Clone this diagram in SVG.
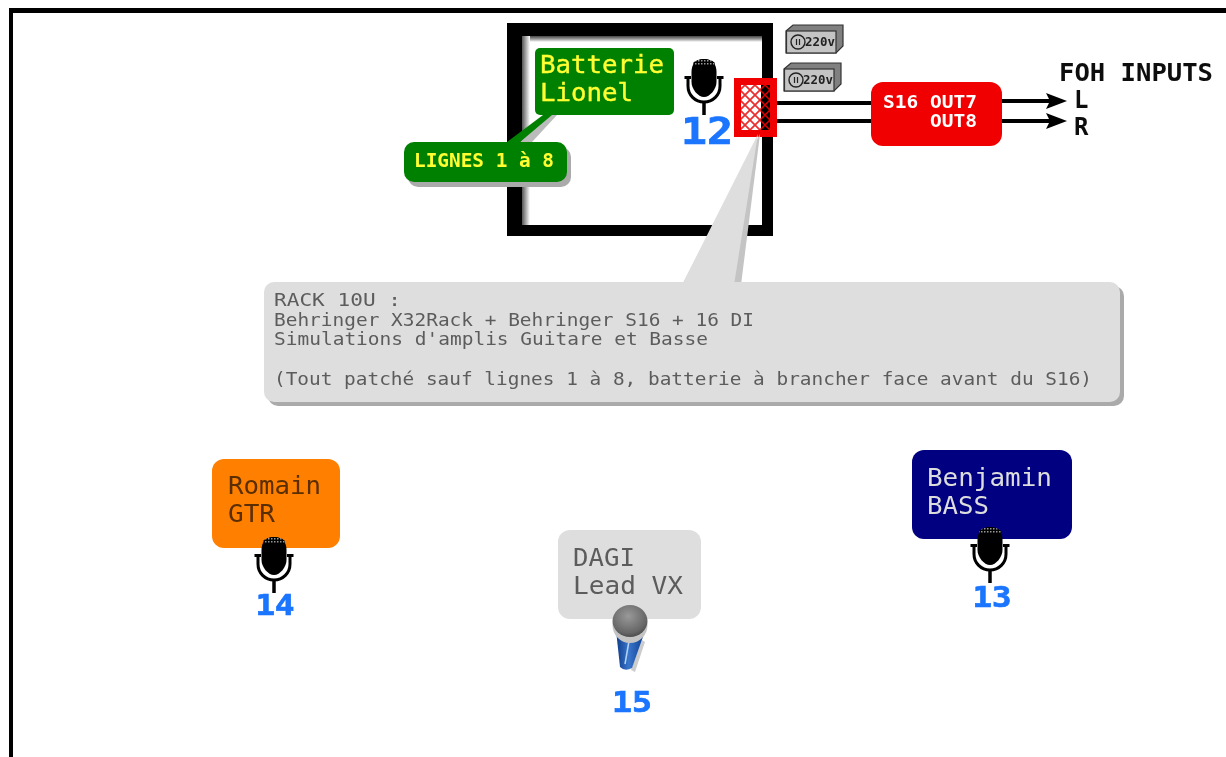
<svg xmlns="http://www.w3.org/2000/svg" width="1226" height="757" viewBox="0 0 1226 757">
<style>
text{font-family:"DejaVu Sans Mono","Liberation Mono",monospace}
.num{fill:#1a75ff;stroke:#1a75ff;stroke-width:.7;font-weight:bold;text-anchor:middle}
.note{fill:#5c5c5c;font-size:18.5px}
.big{font-size:25.5px}
.bold{stroke-width:.4}
.out{fill:#fff;font-size:18.5px;font-weight:bold}
.foh{fill:#111;font-size:24px;font-weight:bold}
.v{font-size:12px;fill:#222;font-weight:bold}
.wire{stroke:#000;stroke-width:4;fill:none}
</style>
<defs>
<linearGradient id="fadeT" x1="0" y1="0" x2="0" y2="1"><stop offset="0" stop-color="#444"/><stop offset=".5" stop-color="#999"/><stop offset="1" stop-color="#fff"/></linearGradient>
<linearGradient id="fadeL" x1="0" y1="0" x2="1" y2="0"><stop offset="0" stop-color="#555"/><stop offset=".5" stop-color="#aaa"/><stop offset="1" stop-color="#fff"/></linearGradient>
<linearGradient id="handle" x1="0" y1="0" x2="1" y2="0"><stop offset="0" stop-color="#0e3a86"/><stop offset=".45" stop-color="#3a76cc"/><stop offset="1" stop-color="#0f3f92"/></linearGradient>
<radialGradient id="head" cx=".45" cy=".35" r=".7"><stop offset="0" stop-color="#999"/><stop offset=".75" stop-color="#666"/><stop offset="1" stop-color="#444"/></radialGradient>
<pattern id="mesh" width="10" height="10" patternUnits="userSpaceOnUse"><rect width="10" height="10" fill="#fff"/><path d="M0 0L10 10M10 0L0 10" stroke="#e83030" stroke-width="1.800"/></pattern>
<pattern id="meshd" width="10" height="10" patternUnits="userSpaceOnUse"><rect width="10" height="10" fill="#000"/><path d="M0 0L10 10M10 0L0 10" stroke="#e00000" stroke-width="1.500"/></pattern>
<pattern id="dots" width="3" height="3" patternUnits="userSpaceOnUse"><rect width="3" height="3" fill="#000"/><rect width="1.500" height="1.500" fill="#999"/></pattern>
<marker id="arr" markerUnits="userSpaceOnUse" markerWidth="22" markerHeight="20" refX="12" refY="10" orient="auto"><path d="M0 2L21 10L0 18L4 10Z" fill="#000"/></marker>
<filter id="soft" x="0" y="0" width="100%" height="100%"><feGaussianBlur stdDeviation="0.45"/></filter>
<g id="mic">
<path d="M-12.500 -12C-12.500 -20 -8 -25 0 -25C8 -25 12.500 -20 12.500 -12V-2C12.500 5 6 13 0 13C-6 13 -12.500 5 -12.500 -2Z" fill="#000"/>
<path d="M-11 -21C-8 -24 -4 -25 0 -25C4 -25 8 -24 11 -21V-19H-11Z" fill="url(#dots)"/>
<path d="M-16 -6V2C-16 11 -9 18 0 18C9 18 16 11 16 2V-6M-19.500 -6.500H-13M13 -6.500H19.500" fill="none" stroke="#000" stroke-width="3"/>
<path d="M0 17V31" stroke="#000" stroke-width="3.500"/>
</g>
<g id="outlet">
<path d="M0 6L7 0H57V21L50 28H0Z" fill="#808080" stroke="#333" stroke-width="1.200"/>
<rect x="0.500" y="6" width="49.500" height="22" fill="#c4c4c4" stroke="#333" stroke-width="1.200"/>
<circle cx="12" cy="17" r="7" fill="none" stroke="#222" stroke-width="1.400"/>
<path d="M10.500 14v6M13.500 14v6" stroke="#222" stroke-width="1.200"/>
</g>
</defs>
<g filter="url(#soft)">
<rect width="1226" height="757" fill="#fff"/>
<g id="frame"><rect x="9" y="8" width="1217" height="5" fill="#000"/><rect x="9" y="8" width="4" height="749" fill="#000"/></g>

<g id="room">
<rect x="522" y="36" width="240" height="6" fill="url(#fadeT)"/>
<rect x="522" y="36" width="8" height="189" fill="url(#fadeL)"/>
<path d="M507 23H773V236H507ZM522 36V225H762V36Z" fill="#000" fill-rule="evenodd"/>
</g>

<g id="connectors">
<path class="wire" d="M772 103H872M772 121H872"/>
<path class="wire" d="M1002 101H1058" marker-end="url(#arr)"/>
<path class="wire" d="M1002 121H1058" marker-end="url(#arr)"/>
</g>

<g id="rack">
<rect x="734" y="78" width="43" height="59" fill="#f00000"/>
<rect x="741" y="85" width="22" height="45" fill="url(#mesh)"/>
<rect x="761" y="85" width="9" height="45" fill="url(#meshd)"/>
</g>

<g id="callout-rack">
<path d="M741 285L760 134L682 285Z" fill="#c4c4c4"/>
<path d="M734 285L758 134L682 285Z" fill="#dedede"/>
<rect x="268" y="286" width="856" height="120" rx="10" fill="#aaa"/>
<rect x="264" y="282" width="856" height="120" rx="10" fill="#dedede"/>
<text class="note" x="274" y="306" textLength="127" lengthAdjust="spacingAndGlyphs">RACK 10U :</text>
<text class="note" x="274" y="326" textLength="480" lengthAdjust="spacingAndGlyphs">Behringer X32Rack + Behringer S16 + 16 DI</text>
<text class="note" x="274" y="345" textLength="434" lengthAdjust="spacingAndGlyphs">Simulations d'amplis Guitare et Basse</text>
<text class="note" x="274" y="385" textLength="818" lengthAdjust="spacingAndGlyphs">(Tout patché sauf lignes 1 à 8, batterie à brancher face avant du S16)</text>
</g>

<g id="batterie">
<path d="M545 115L520 142H532L557 115Z" fill="#bbb"/>
<path d="M543 115L507 142H520L552 115Z" fill="#008000"/>
<rect x="535" y="48" width="139" height="67" rx="5" fill="#008000"/>
<text class="big bold" x="540" y="73" fill="#ffff33" stroke="#ffff33" textLength="124" lengthAdjust="spacingAndGlyphs">Batterie</text>
<text class="big bold" x="540" y="101" fill="#ffff33" stroke="#ffff33" textLength="93" lengthAdjust="spacingAndGlyphs">Lionel</text>
</g>

<g id="lignes">
<rect x="408" y="147" width="163" height="40" rx="10" fill="#aaa"/>
<rect x="404" y="142" width="163" height="40" rx="10" fill="#008000"/>
<text x="414" y="167" fill="#ffff33" font-size="19" font-weight="bold" textLength="140" lengthAdjust="spacingAndGlyphs">LIGNES 1 à 8</text>
</g>

<g id="mic-12"><use href="#mic" x="704" y="84"/><text class="num" x="707" y="144" font-size="37" textLength="52" lengthAdjust="spacingAndGlyphs">12</text></g>

<g id="outlet-1"><use href="#outlet" x="786" y="25"/><text class="v" x="805" y="46" textLength="30" lengthAdjust="spacingAndGlyphs">220v</text></g>
<g id="outlet-2"><use href="#outlet" x="784" y="63"/><text class="v" x="803" y="84" textLength="30" lengthAdjust="spacingAndGlyphs">220v</text></g>

<g id="s16">
<rect x="871" y="82" width="131" height="64" rx="12" fill="#f00000"/>
<text class="out" x="883" y="108" textLength="94" lengthAdjust="spacingAndGlyphs">S16 OUT7</text>
<text class="out" x="930" y="127" textLength="47" lengthAdjust="spacingAndGlyphs">OUT8</text>
</g>

<g id="foh">
<text class="foh" x="1059" y="81" textLength="154" lengthAdjust="spacingAndGlyphs">FOH INPUTS</text>
<text class="foh" x="1074" y="108">L</text>
<text class="foh" x="1074" y="135">R</text>
</g>

<g id="romain">
<rect x="212" y="459" width="128" height="89" rx="12" fill="#ff8000"/>
<text class="big" x="228" y="494" fill="#5a2d00" textLength="93" lengthAdjust="spacingAndGlyphs">Romain</text>
<text class="big" x="228" y="522" fill="#5a2d00" textLength="47" lengthAdjust="spacingAndGlyphs">GTR</text>
<use href="#mic" x="274" y="562"/>
<text class="num" x="275" y="615" font-size="28" textLength="39" lengthAdjust="spacingAndGlyphs">14</text>
</g>

<g id="dagi">
<rect x="558" y="530" width="143" height="89" rx="12" fill="#dedede"/>
<text class="big" x="573" y="566" fill="#5c5c5c" textLength="62" lengthAdjust="spacingAndGlyphs">DAGI</text>
<text class="big" x="573" y="594" fill="#5c5c5c" textLength="110" lengthAdjust="spacingAndGlyphs">Lead VX</text>
<path d="M642 640L645 642L635 672L631 670Z" fill="#ccc"/>
<path d="M616 630L644 634L632 668Q625 672 620 667Z" fill="url(#handle)"/>
<path d="M629 641L625 664" stroke="#b5d3f5" stroke-width="1.500"/>
<ellipse cx="630" cy="625" rx="17.500" ry="18" fill="#c4c4c4"/>
<ellipse cx="630" cy="621" rx="17.500" ry="16" fill="url(#head)"/>
<text class="num" x="632" y="712" font-size="28" textLength="40" lengthAdjust="spacingAndGlyphs">15</text>
</g>

<g id="benjamin">
<rect x="912" y="450" width="160" height="89" rx="12" fill="#000080"/>
<text class="big" x="927" y="486" fill="#ddd" textLength="125" lengthAdjust="spacingAndGlyphs">Benjamin</text>
<text class="big" x="927" y="514" fill="#ddd" textLength="62" lengthAdjust="spacingAndGlyphs">BASS</text>
<use href="#mic" x="990" y="552"/>
<text class="num" x="992" y="607" font-size="28" textLength="39" lengthAdjust="spacingAndGlyphs">13</text>
</g>
</g>
</svg>
